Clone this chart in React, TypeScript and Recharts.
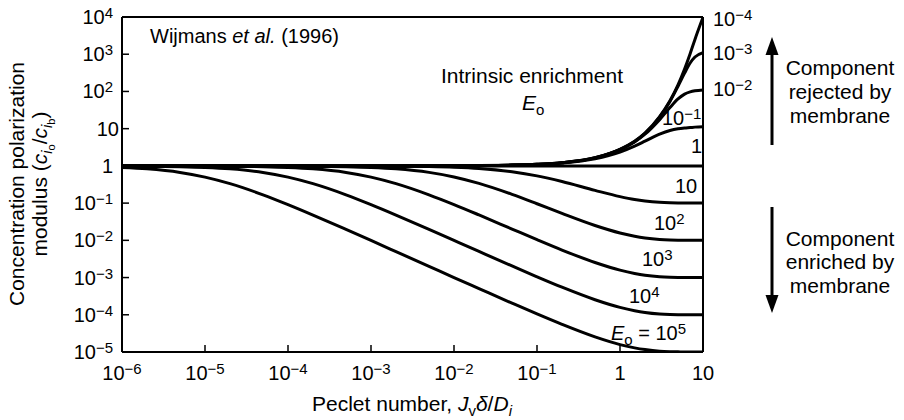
import React from 'react';
import { LineChart, Line, XAxis, YAxis, ReferenceLine } from 'recharts';

const FONT = '"Liberation Sans", Arial, Helvetica, sans-serif';
const INK = '#000';

// Peclet number J_v δ / D_i at which the curves were read
const PECLET = [1e-6, 2e-6, 5e-6, 1e-5, 2e-5, 5e-5, 1e-4, 2e-4, 5e-4, 1e-3, 2e-3, 5e-3, 0.01, 0.02, 0.05, 0.1, 0.2, 0.5, 1, 1.5, 2, 3, 4, 5, 6, 7, 8, 10];

// concentration polarization modulus c_io/c_ib, one list per intrinsic enrichment E_o
const E_1E_4 = [1, 1, 1, 1, 1, 1, 1, 1, 1, 1, 1, 1.005, 1.01, 1.02, 1.05, 1.105, 1.22, 1.65, 2.8, 4.6, 7.6, 21, 56, 150, 400, 1030, 2500, 9800];
const E_1E_3 = [1, 1, 1, 1, 1, 1, 1, 1, 1, 1, 1, 1.005, 1.01, 1.02, 1.05, 1.105, 1.22, 1.65, 2.78, 4.55, 7.5, 20.5, 54, 138, 310, 580, 840, 1100];
const E_1E_2 = [1, 1, 1, 1, 1, 1, 1, 1, 1, 1, 1, 1.005, 1.01, 1.02, 1.05, 1.104, 1.22, 1.64, 2.72, 4.4, 7.1, 17.5, 37, 63, 85, 97, 104, 110];
const E_1E_1 = [1, 1, 1, 1, 1, 1, 1, 1, 1, 1, 1, 1.004, 1.009, 1.018, 1.046, 1.094, 1.195, 1.55, 2.35, 3.4, 4.6, 7.1, 8.9, 9.9, 10.4, 10.7, 11, 11.3];
const E_1 = [1, 1, 1, 1, 1, 1, 1, 1, 1, 1, 1, 1, 1, 1, 1, 1, 1, 1, 1, 1, 1, 1, 1, 1, 1, 1, 1, 1];
const E_10 = [1, 1, 1, 0.9999, 0.9998, 0.9995, 0.999, 0.998, 0.9955, 0.991, 0.982, 0.957, 0.918, 0.849, 0.695, 0.539, 0.38, 0.22, 0.1495, 0.125, 0.114, 0.1047, 0.1017, 0.1006, 0.1002, 0.1001, 0.1, 0.1];
const E_1E2 = [0.9999, 0.9998, 0.9995, 0.999, 0.998, 0.995, 0.99, 0.981, 0.953, 0.91, 0.835, 0.669, 0.504, 0.338, 0.1716, 0.096, 0.0528, 0.025, 0.01573, 0.01284, 0.01155, 0.01052, 0.01019, 0.01007, 0.01003, 0.01001, 0.01, 0.01];
const E_1E3 = [0.999, 0.998, 0.995, 0.99, 0.98, 0.952, 0.909, 0.833, 0.667, 0.5, 0.334, 0.167, 0.0914, 0.0481, 0.0201, 0.0104, 0.00549, 0.00254, 0.00158, 0.00129, 0.001156, 0.001052, 0.001019, 0.001007, 0.001003, 0.001001, 0.001, 0.001];
const E_1E4 = [0.99, 0.98, 0.952, 0.909, 0.833, 0.667, 0.5, 0.333, 0.167, 0.091, 0.0477, 0.0197, 0.00995, 0.00503, 0.00205, 0.00105, 0.000551, 0.000254, 0.000158, 0.000129, 0.0001157, 0.0001052, 0.0001019, 0.0001007, 0.0001002, 0.0001001, 0.0001, 0.0001];
const E_1E5 = [0.909, 0.833, 0.667, 0.5, 0.333, 0.167, 0.0909, 0.0476, 0.0196, 0.00991, 0.00498, 0.002, 0.001, 0.000505, 0.000205, 0.000105, 0.0000552, 0.0000254, 0.0000158, 0.0000129, 0.0000116, 0.0000105, 0.0000102, 0.0000101, 0.00001, 0.00001, 0.00001, 0.00001];

const SERIES = [
  { key: 'e1e-4', values: E_1E_4 },
  { key: 'e1e-3', values: E_1E_3 },
  { key: 'e1e-2', values: E_1E_2 },
  { key: 'e1e-1', values: E_1E_1 },
  { key: 'e1', values: E_1 },
  { key: 'e10', values: E_10 },
  { key: 'e1e2', values: E_1E2 },
  { key: 'e1e3', values: E_1E3 },
  { key: 'e1e4', values: E_1E4 },
  { key: 'e1e5', values: E_1E5 },
];

const X_TICKS = [1e-6, 1e-5, 1e-4, 1e-3, 1e-2, 1e-1, 1, 10];
const X_TICK_LABELS = [['10', '−6'], ['10', '−5'], ['10', '−4'], ['10', '−3'], ['10', '−2'], ['10', '−1'], ['1', ''], ['10', '']];
const Y_TICKS = [1e-5, 1e-4, 1e-3, 1e-2, 1e-1, 1, 10, 100, 1000, 1e4];
const Y_TICK_LABELS = [['10', '−5'], ['10', '−4'], ['10', '−3'], ['10', '−2'], ['10', '−1'], ['1', ''], ['10', ''], ['10', '2'], ['10', '3'], ['10', '4']];

const data = PECLET.map((p, i) => {
  const row: Record<string, number> = { p };
  SERIES.forEach((s) => { row[s.key] = s.values[i]; });
  return row;
});

const Power = ({ x, y, base, exp, anchor }: any) => (
  <text x={x} y={y} textAnchor={anchor} fontSize={20} fontFamily={FONT} fill={INK}>
    {base}
    {exp ? <tspan dy={-6} fontSize={15}>{exp}</tspan> : null}
  </text>
);

const XTick = ({ x, y, index }: any) => {
  const [base, exp] = X_TICK_LABELS[index];
  return (
    <g>
      <line x1={x} x2={x} y1={y} y2={y - 7} stroke={INK} strokeWidth={1.5} />
      <Power x={x} y={y + 28} base={base} exp={exp} anchor="middle" />
    </g>
  );
};

const YTick = ({ x, y, index }: any) => {
  const [base, exp] = Y_TICK_LABELS[index];
  // the plain "10" label sits a little closer to the axis in the original
  const dx = base === '10' && !exp ? 6 : 0;
  return (
    <g>
      <line x1={x} x2={x + 7} y1={y} y2={y} stroke={INK} strokeWidth={1.5} />
      <Power x={x - 9 + dx} y={y + 7} base={base} exp={exp} anchor="end" />
    </g>
  );
};

const Arrow = ({ x, from, to }: { x: number; from: number; to: number }) => {
  const dir = to < from ? -1 : 1;
  const head = to - dir * 18;
  return (
    <g>
      <line x1={x} x2={x} y1={from} y2={head} stroke={INK} strokeWidth={3} />
      <polygon points={`${x},${to} ${x - 6.5},${head} ${x + 6.5},${head}`} fill={INK} />
    </g>
  );
};

const Annotations = () => (
  <svg width={904} height={420} style={{ position: 'absolute', left: 0, top: 0, pointerEvents: 'none' }} fontFamily={FONT} fill={INK}>
    <text x={150} y={43} fontSize={20}>
      Wijmans <tspan fontStyle="italic">et al.</tspan> (1996)
    </text>
    <text x={532} y={83} fontSize={21} textAnchor="middle">Intrinsic enrichment</text>
    <text x={522} y={110} fontSize={21}>
      <tspan fontStyle="italic">E</tspan>
      <tspan dy={5} fontSize={15}>o</tspan>
    </text>

    <Power x={713} y={26} base="10" exp="−4" anchor="start" />
    <Power x={713} y={60} base="10" exp="−3" anchor="start" />
    <Power x={713} y={96} base="10" exp="−2" anchor="start" />
    <Power x={662} y={125} base="10" exp="−1" anchor="start" />
    <Power x={691} y={153} base="1" exp="" anchor="start" />
    <Power x={675} y={193} base="10" exp="" anchor="start" />
    <Power x={654} y={230} base="10" exp="2" anchor="start" />
    <Power x={642} y={266} base="10" exp="3" anchor="start" />
    <Power x={629} y={303} base="10" exp="4" anchor="start" />
    <text x={611} y={340} fontSize={20}>
      <tspan fontStyle="italic">E</tspan>
      <tspan dy={5} fontSize={15}>o</tspan>
      <tspan dy={-5}> = 10</tspan>
      <tspan dy={-6} fontSize={15}>5</tspan>
    </text>

    <Arrow x={772} from={145} to={37} />
    <Arrow x={772} from={207} to={313} />
    <g fontSize={21} textAnchor="middle">
      <text x={840} y={75}>Component</text>
      <text x={840} y={99}>rejected by</text>
      <text x={840} y={123}>membrane</text>
      <text x={840} y={246}>Component</text>
      <text x={840} y={269}>enriched by</text>
      <text x={840} y={293}>membrane</text>
    </g>

    <text x={412} y={411} fontSize={21} textAnchor="middle">
      Peclet number, <tspan fontStyle="italic">J</tspan>
      <tspan dy={5} fontSize={15}>v</tspan>
      <tspan dy={-5} fontStyle="italic">δ</tspan>/<tspan fontStyle="italic">D</tspan>
      <tspan dy={5} fontSize={15} fontStyle="italic">i</tspan>
    </text>
    <g fontSize={21} textAnchor="middle">
      <text transform="translate(24,184) rotate(-90)">Concentration polarization</text>
      <text transform="translate(47,184) rotate(-90)">
        modulus (<tspan fontStyle="italic">c</tspan>
        <tspan dy={5} fontSize={15} fontStyle="italic">i</tspan>
        <tspan dy={3} fontSize={11}>o</tspan>
        <tspan dy={-8}>/</tspan>
        <tspan fontStyle="italic">c</tspan>
        <tspan dy={5} fontSize={15} fontStyle="italic">i</tspan>
        <tspan dy={3} fontSize={11}>b</tspan>
        <tspan dy={-8}>)</tspan>
      </text>
    </g>
  </svg>
);

export default function App() {
  return (
    <div style={{ position: 'absolute', left: 0, top: 0, width: 904, height: 420, background: '#fff' }}>
      <LineChart width={904} height={420} data={data} margin={{ top: 17, right: 201, bottom: 28, left: 82 }}>
        <XAxis
          dataKey="p"
          type="number"
          scale="log"
          domain={[1e-6, 10]}
          ticks={X_TICKS}
          interval={0}
          allowDataOverflow
          height={40}
          tickSize={0}
          tickMargin={0}
          tickLine={false}
          tick={(props: any) => <XTick {...props} />}
          axisLine={{ stroke: INK, strokeWidth: 2 }}
        />
        <YAxis
          type="number"
          scale="log"
          domain={[1e-5, 1e4]}
          ticks={Y_TICKS}
          interval={0}
          allowDataOverflow
          width={40}
          tickSize={0}
          tickMargin={0}
          tickLine={false}
          tick={(props: any) => <YTick {...props} />}
          axisLine={{ stroke: INK, strokeWidth: 2 }}
        />
        <ReferenceLine y={1e4} stroke={INK} strokeWidth={2} />
        <ReferenceLine x={10} stroke={INK} strokeWidth={2} />
        {SERIES.map((s) => (
          <Line
            key={s.key}
            dataKey={s.key}
            type="monotone"
            stroke={INK}
            strokeWidth={3}
            dot={false}
            activeDot={false}
            isAnimationActive={false}
          />
        ))}
      </LineChart>
      <Annotations />
    </div>
  );
}
